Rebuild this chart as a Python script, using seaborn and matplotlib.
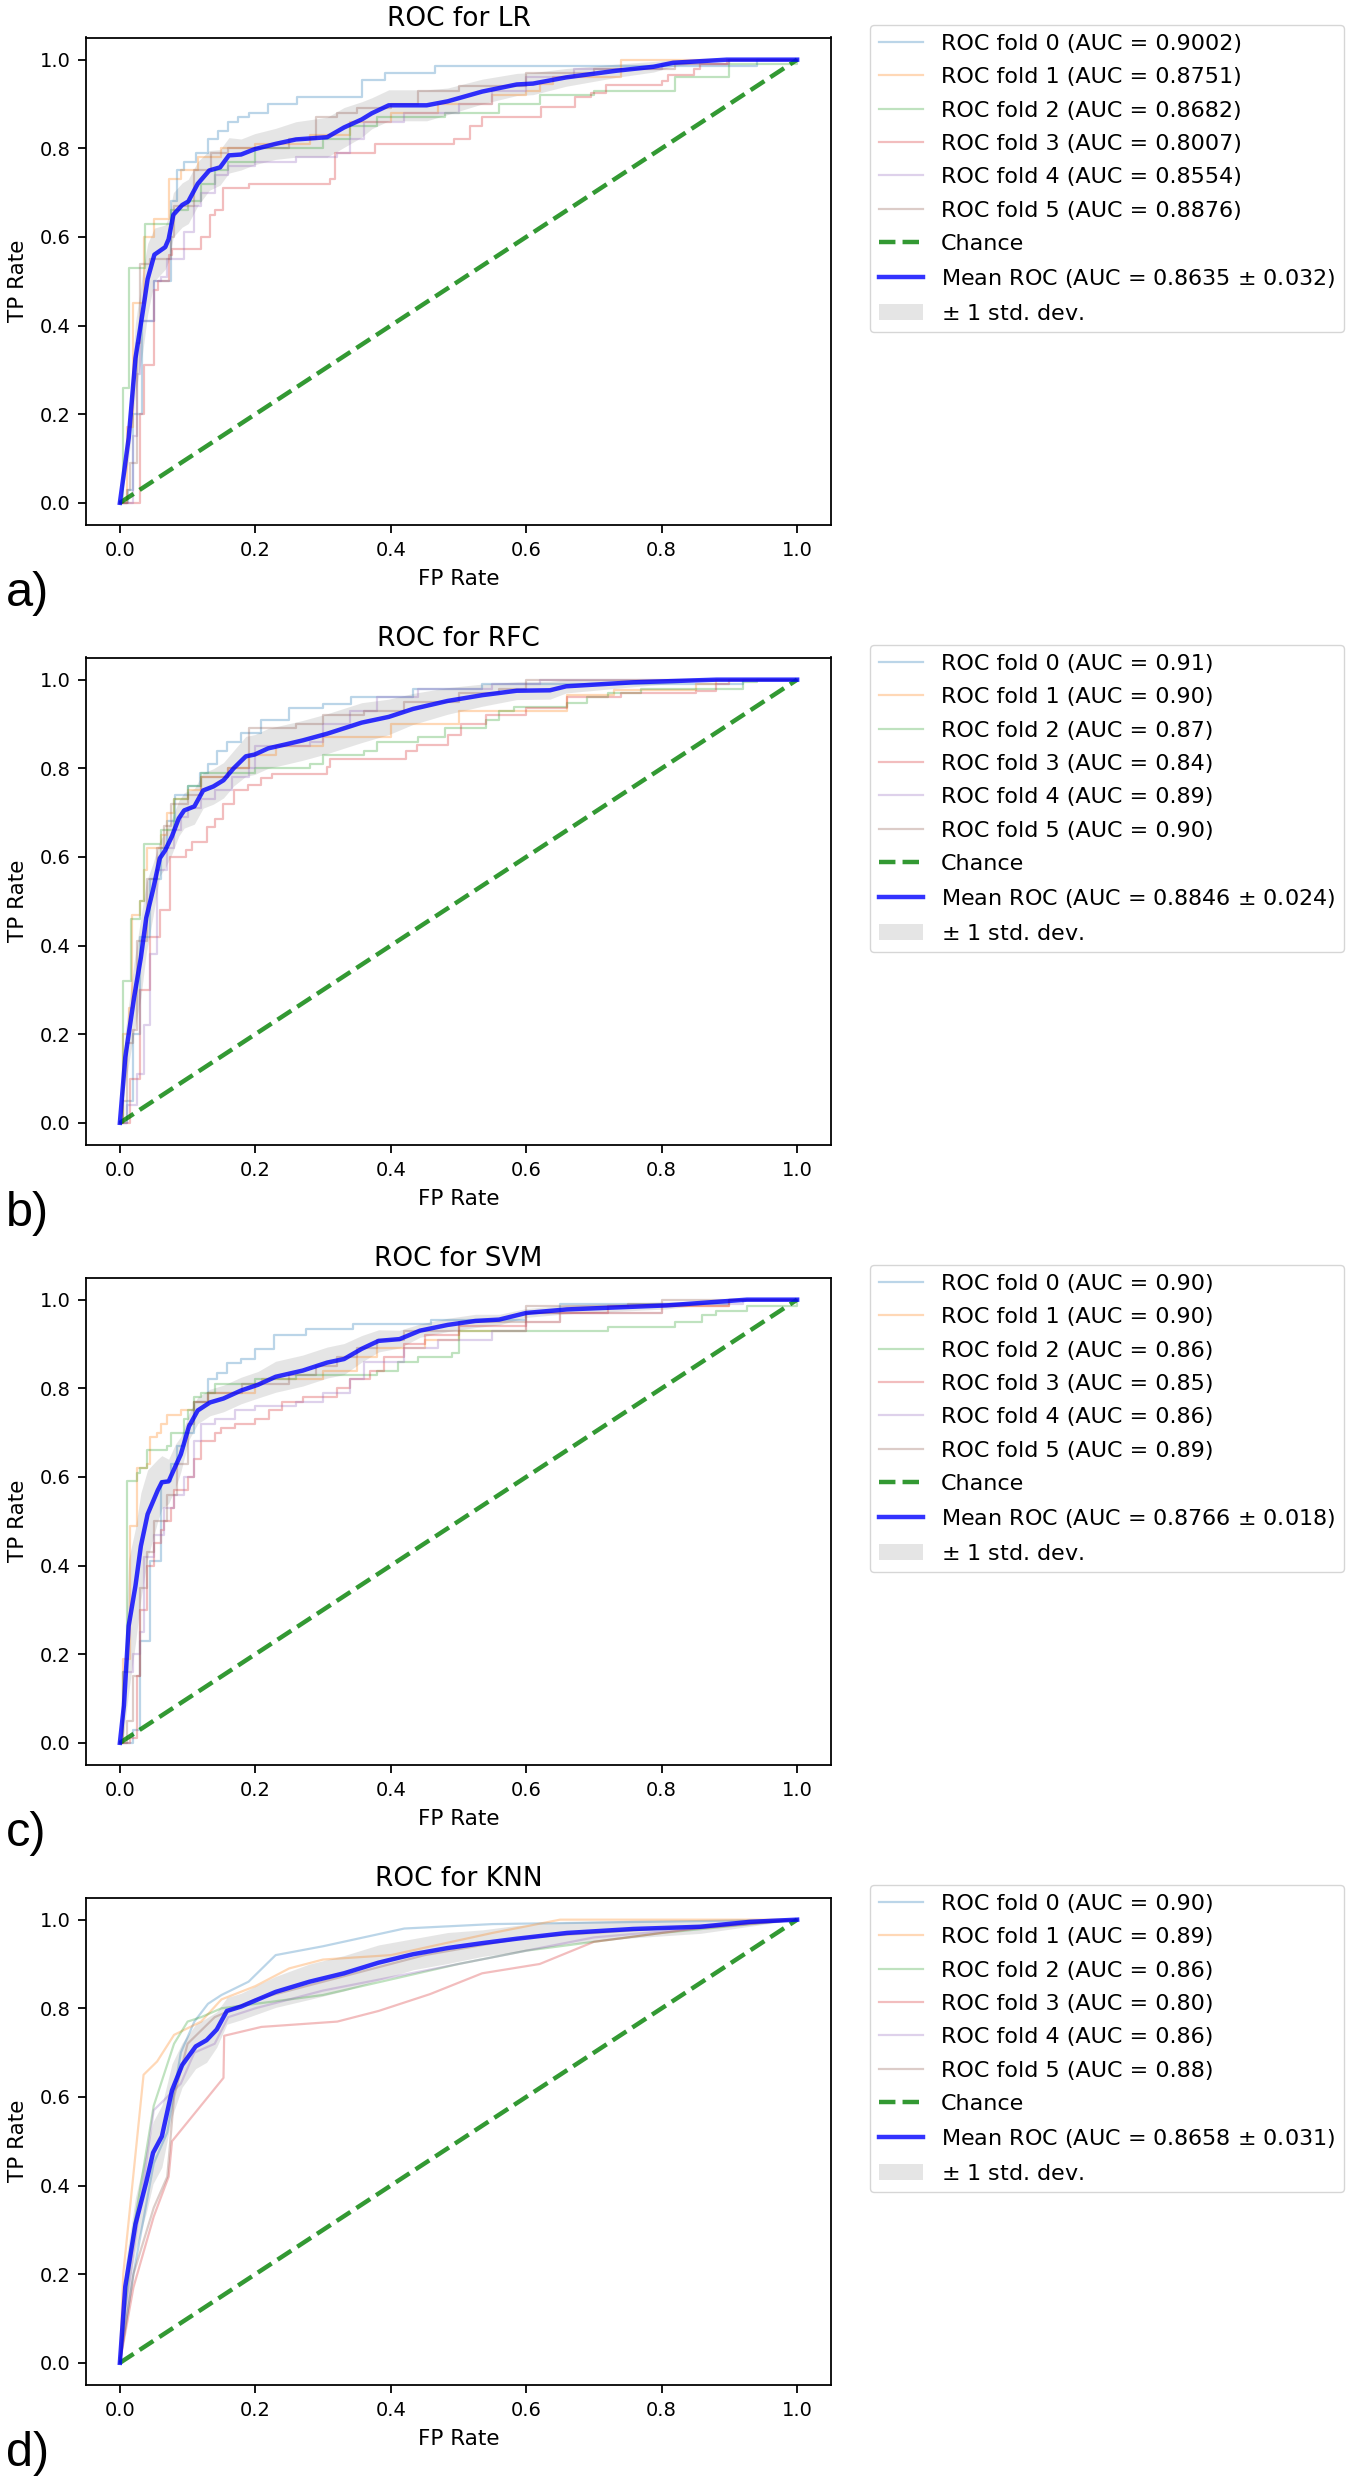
import numpy as np
import matplotlib
matplotlib.use("Agg")
import matplotlib.pyplot as plt
import seaborn as sns

models = ["LR", "RFC", "SVM", "KNN"]
tags = ["a)", "b)", "c)", "d)"]

# AUC texts shown in the legends
lr_auc = ["0.9002", "0.8751", "0.8682", "0.8007", "0.8554", "0.8876"]
rfc_auc = ["0.91", "0.90", "0.87", "0.84", "0.89", "0.90"]
svm_auc = ["0.90", "0.90", "0.86", "0.85", "0.86", "0.89"]
knn_auc = ["0.90", "0.89", "0.86", "0.80", "0.86", "0.88"]
mean_auc = ["0.8635", "0.8846", "0.8766", "0.8658"]
std_auc = ["0.032", "0.024", "0.018", "0.031"]

chance_x = [0, 1]
chance_y = [0, 1]

# ---- LR folds (step curves) ----
lr_fpr = [
    [0, .012, .02, .033, .05, .075, .085, .095, .113, .13, .145, .16, .175, .19, .218, .262, .357, .392, .466, .94, 1],
    [0, .01, .02, .035, .05, .072, .09, .115, .15, .2, .28, .34, .4, .47, .55, .6, .62, .64, .74, 1],
    [0, .005, .013, .037, .075, .1, .12, .14, .16, .2, .3, .34, .38, .48, .56, .62, .7, .82, .9, 1],
    [0, .03, .036, .05, .056, .073, .077, .12, .133, .14, .153, .19, .31, .318, .376, .494, .517, .535, .622, .672, .696, .718, .8, .81, .847, .857, .896, 1],
    [0, .02, .025, .03, .05, .06, .07, .095, .11, .12, .14, .16, .2, .26, .32, .34, .36, .42, .5, .55, .6, .67, .8, .9, 1],
    [0, .01, .015, .025, .03, .045, .075, .08, .11, .135, .16, .25, .29, .32, .35, .4, .44, .5, .6, .7, .82, .9, 1],
]
lr_tpr = [
    [0, .03, .2, .41, .5, .68, .75, .77, .79, .82, .84, .86, .87, .88, .9, .915, .955, .97, .985, 1, 1],
    [0, .17, .45, .6, .64, .73, .75, .78, .8, .81, .83, .86, .88, .9, .92, .93, .945, .96, 1, 1],
    [0, .26, .53, .63, .66, .68, .72, .75, .77, .8, .82, .85, .87, .88, .9, .92, .93, .96, .99, 1],
    [0, .2, .31, .48, .5, .56, .573, .6, .65, .66, .71, .72, .73, .79, .81, .82, .85, .87, .893, .915, .924, .942, .951, .966, .978, .99, 1, 1],
    [0, .15, .29, .41, .5, .51, .55, .61, .67, .7, .74, .76, .77, .78, .79, .82, .86, .88, .9, .93, .96, .98, .99, 1, 1],
    [0, .03, .09, .36, .54, .55, .6, .67, .75, .79, .8, .82, .87, .88, .89, .9, .93, .94, .97, .98, .99, 1, 1],
]
lr_mean_fpr = [0, .013, .023, .034, .041, .051, .067, .072, .079, .092, .101, .115, .132, .148, .161, .179, .199, .23, .26, .306,
               .331, .357, .372, .397, .453, .484, .535, .586, .61, .659, .733, .788, .817, .896, 1]
lr_mean_tpr = [0, .146, .326, .433, .505, .56, .577, .595, .65, .672, .68, .72, .75, .757, .784, .786, .798, .81, .82, .825,
               .847, .865, .879, .897, .897, .906, .928, .944, .946, .96, .975, .984, .993, 1, 1]
lr_std = [0, .05, .08, .09, .08, .06, .05, .05, .05, .05, .05, .05, .045, .04, .04, .035, .035, .035, .04, .045,
          .045, .04, .035, .035, .035, .03, .028, .025, .025, .02, .015, .012, .008, 0, 0]

# ---- RFC folds ----
rfc_fpr = [
    [0, .01, .02, .03, .045, .06, .07, .082, .1, .118, .13, .143, .158, .179, .209, .25, .3, .341, .433, .535, .92, 1],
    [0, .005, .013, .018, .03, .035, .04, .06, .07, .08, .1, .12, .16, .19, .23, .3, .4, .5, .66, .73, .85, .88, 1],
    [0, .005, .017, .03, .035, .06, .08, .1, .12, .2, .28, .3, .36, .38, .44, .48, .54, .56, .582, .66, .69, .72, .77, .92, .94, 1],
    [0, .015, .03, .045, .059, .074, .097, .107, .128, .14, .153, .168, .189, .209, .224, .306, .311, .423, .438, .484, .504, .54, .6, .66, .74, .85, .88, .9, 1],
    [0, .01, .025, .035, .045, .055, .07, .08, .09, .1, .12, .14, .165, .19, .2, .28, .3, .34, .38, .44, .55, .62, 1],
    [0, .005, .01, .02, .025, .04, .055, .065, .075, .1, .12, .16, .19, .26, .3, .36, .42, .5, .56, .6, 1],
]
rfc_tpr = [
    [0, .05, .2, .42, .55, .62, .68, .74, .76, .79, .81, .84, .86, .88, .91, .935, .945, .96, .98, .99, 1, 1],
    [0, .2, .26, .47, .5, .57, .62, .65, .7, .73, .75, .78, .8, .83, .85, .87, .9, .93, .966, .977, .99, 1, 1],
    [0, .32, .46, .5, .63, .66, .73, .76, .79, .8, .81, .83, .84, .86, .87, .89, .91, .929, .938, .947, .96, .97, .98, .995, 1, 1],
    [0, .1, .3, .42, .48, .6, .615, .633, .667, .685, .72, .75, .763, .777, .786, .804, .82, .84, .852, .875, .9, .92, .935, .96, .97, .975, .99, 1, 1],
    [0, .04, .11, .22, .38, .57, .62, .66, .69, .71, .73, .75, .78, .8, .85, .86, .9, .93, .96, .98, .99, 1, 1],
    [0, .05, .18, .21, .41, .55, .62, .67, .72, .74, .78, .8, .89, .9, .92, .93, .95, .97, .98, 1, 1],
]
rfc_mean_fpr = [0, .008, .021, .031, .039, .049, .059, .067, .077, .087, .095, .11, .123, .138, .153, .168, .186, .199, .219, .245,
                .27, .306, .357, .397, .433, .484, .535, .586, .635, .659, .758, .881, 1]
rfc_mean_tpr = [0, .148, .283, .373, .463, .526, .597, .615, .647, .687, .705, .714, .75, .759, .773, .8, .827, .831, .845, .854,
                .863, .878, .903, .916, .934, .952, .965, .975, .976, .985, .994, 1, 1]
rfc_std = [0, .06, .08, .09, .08, .06, .04, .04, .04, .04, .04, .04, .04, .04, .04, .04, .045, .045, .045, .045,
           .045, .045, .045, .04, .035, .03, .025, .02, .02, .015, .01, 0, 0]

# ---- SVM folds ----
svm_fpr = [
    [0, .02, .03, .045, .06, .075, .085, .095, .11, .13, .143, .158, .179, .2, .227, .275, .344, .46, .6, .65, .9, 1],
    [0, .005, .015, .025, .04, .045, .055, .06, .07, .09, .11, .13, .2, .21, .3, .35, .38, .45, .5, .6, .65, .8, .9, 1],
    [0, .005, .01, .025, .03, .04, .07, .075, .095, .1, .11, .12, .14, .2, .26, .38, .41, .44, .49, .5, .72, .82, .86, .88, .926, 1],
    [0, .015, .025, .03, .04, .05, .06, .065, .075, .08, .1, .11, .12, .14, .15, .17, .2, .22, .24, .27, .32, .34, .37, .39, .42, .45, .5, .6, .72, .9, 1],
    [0, .005, .02, .03, .035, .05, .065, .08, .095, .11, .12, .14, .17, .2, .26, .3, .34, .36, .42, .47, .55, .6, .65, .8, .92, 1],
    [0, .01, .02, .03, .04, .05, .07, .085, .1, .11, .13, .18, .25, .29, .32, .35, .38, .42, .5, .6, .75, .8, 1],
]
svm_tpr = [
    [0, .03, .23, .41, .59, .63, .67, .7, .77, .82, .835, .857, .866, .888, .92, .934, .945, .955, .97, .99, 1, 1],
    [0, .19, .49, .62, .63, .69, .7, .72, .74, .75, .77, .79, .81, .82, .84, .87, .89, .91, .93, .95, .97, .985, 1, 1],
    [0, .16, .59, .61, .62, .66, .67, .7, .73, .75, .78, .79, .81, .82, .83, .84, .86, .87, .88, .93, .938, .95, .965, .975, .985, 1],
    [0, .01, .15, .3, .4, .45, .48, .5, .53, .57, .6, .64, .68, .7, .71, .72, .73, .75, .77, .78, .8, .82, .84, .87, .9, .92, .94, .97, .985, 1, 1],
    [0, .16, .2, .25, .42, .47, .53, .56, .6, .68, .72, .73, .75, .76, .77, .79, .82, .86, .89, .91, .93, .95, .97, .99, 1, 1],
    [0, .05, .15, .35, .43, .5, .56, .63, .72, .77, .79, .81, .83, .85, .87, .89, .91, .93, .95, .985, .99, 1, 1],
]
svm_mean_fpr = [0, .006, .013, .023, .031, .041, .056, .062, .072, .082, .09, .102, .115, .133, .153, .179, .204, .23, .27, .306,
                .331, .357, .382, .413, .443, .484, .525, .56, .6, .66, .807, .926, 1]
svm_mean_tpr = [0, .084, .264, .354, .444, .516, .57, .588, .59, .624, .651, .714, .75, .768, .777, .795, .808, .826, .84, .858,
                .866, .889, .907, .911, .93, .943, .952, .955, .97, .978, .987, 1, 1]
svm_std = [0, .06, .15, .13, .12, .1, .07, .06, .05, .05, .04, .03, .03, .03, .03, .03, .03, .035, .035, .035,
           .035, .03, .025, .02, .015, .015, .015, .012, .01, .01, .008, 0, 0]

# ---- KNN folds (piecewise linear) ----
knn_fpr = [
    [0, .02, .05, .07, .09, .11, .13, .15, .19, .23, .3, .42, .55, 1],
    [0, .005, .035, .055, .08, .12, .15, .2, .25, .3, .4, .55, .65, 1],
    [0, .02, .05, .08, .1, .12, .15, .2, .3, .5, .6, .8, 1],
    [0, .02, .05, .072, .077, .153, .154, .209, .321, .382, .458, .535, .62, .7, .85, 1],
    [0, .02, .05, .07, .09, .11, .14, .16, .2, .3, .5, .7, 1],
    [0, .02, .05, .07, .08, .1, .14, .2, .3, .45, .6, .8, 1],
]
knn_tpr = [
    [0, .2, .45, .52, .7, .77, .81, .83, .86, .92, .94, .98, .99, 1],
    [0, .2, .65, .68, .74, .77, .82, .85, .89, .91, .92, .97, 1, 1],
    [0, .3, .58, .72, .77, .78, .8, .81, .83, .9, .93, .97, 1],
    [0, .17, .33, .42, .5, .643, .738, .758, .77, .794, .832, .879, .9, .95, .98, 1],
    [0, .25, .57, .6, .63, .7, .72, .78, .8, .84, .9, .96, 1],
    [0, .2, .35, .42, .6, .72, .78, .82, .86, .92, .96, .98, 1],
]
knn_mean_fpr = [0, .008, .023, .039, .049, .062, .077, .092, .112, .128, .143, .158, .179, .23, .28, .331, .382, .433, .484, .535,
                .586, .66, .758, .857, .93, 1]
knn_mean_tpr = [0, .172, .313, .408, .474, .511, .615, .672, .714, .728, .752, .794, .804, .837, .86, .879, .903, .922, .936, .947,
                .957, .97, .979, .984, .995, 1]
knn_std = [0, .05, .06, .07, .07, .07, .06, .05, .05, .05, .04, .03, .03, .035, .04, .04, .04, .035, .035, .03,
           .03, .025, .02, .015, .01, 0]

fold_fpr = [lr_fpr, rfc_fpr, svm_fpr, knn_fpr]
fold_tpr = [lr_tpr, rfc_tpr, svm_tpr, knn_tpr]
fold_auc = [lr_auc, rfc_auc, svm_auc, knn_auc]
mean_fpr = [lr_mean_fpr, rfc_mean_fpr, svm_mean_fpr, knn_mean_fpr]
mean_tpr = [lr_mean_tpr, rfc_mean_tpr, svm_mean_tpr, knn_mean_tpr]
std_tpr = [lr_std, rfc_std, svm_std, knn_std]
steps = [True, True, True, False]

plt.rcParams['font.family'] = ['DejaVu Sans']
plt.rcParams['axes.linewidth'] = 1.28
plt.rcParams['xtick.major.size'] = 5.6
plt.rcParams['ytick.major.size'] = 5.6
plt.rcParams['xtick.major.width'] = 1.28
plt.rcParams['ytick.major.width'] = 1.28
plt.rcParams['xtick.major.pad'] = 5.6
plt.rcParams['ytick.major.pad'] = 5.6

W, H = 1350, 2480
fig = plt.figure(figsize=(W / 100, H / 100), dpi=100)
colors = sns.color_palette("tab10", 6)

for k in range(4):
    off = 620 * k
    ax = fig.add_axes([86 / W, 1 - (525 + off) / H, 745 / W, 487.5 / H])
    ds = 'steps-post' if steps[k] else 'default'
    for i in range(6):
        sns.lineplot(x=fold_fpr[k][i], y=fold_tpr[k][i], ax=ax, estimator=None, sort=False,
                     color=colors[i], lw=1.6, alpha=0.3, drawstyle=ds,
                     label='ROC fold %d (AUC = %s)' % (i, fold_auc[k][i]))
    sns.lineplot(x=chance_x, y=chance_y, ax=ax, estimator=None, sort=False,
                 color='g', lw=3.2, alpha=0.8, linestyle='--', label='Chance')
    mf = np.array(mean_fpr[k])
    mt = np.array(mean_tpr[k])
    sd = np.array(std_tpr[k])
    sns.lineplot(x=mf, y=mt, ax=ax, estimator=None, sort=False, color='b', lw=3.2, alpha=0.8,
                 label=r'Mean ROC (AUC = %s $\pm$ %s)' % (mean_auc[k], std_auc[k]))
    upper = np.minimum(mt + sd, 1)
    lower = np.maximum(mt - sd, 0)
    ax.fill_between(mf, lower, upper, color='grey', alpha=0.2, lw=0, label=r'$\pm$ 1 std. dev.')

    ax.set_xlim(-0.05, 1.05)
    ax.set_ylim(-0.05, 1.05)
    ax.set_xticks([0, 0.2, 0.4, 0.6, 0.8, 1.0])
    ax.set_yticks([0, 0.2, 0.4, 0.6, 0.8, 1.0])
    ax.tick_params(labelsize=14)
    ax.set_xlabel('FP Rate', fontsize=15.5, labelpad=7)
    ax.set_ylabel('TP Rate', fontsize=15.5, labelpad=8)
    ax.set_title('ROC for ' + models[k], fontsize=19, pad=8.6)
    ax.legend(loc='upper left', bbox_to_anchor=(870 / W, 1 - (25 + off) / H),
              bbox_transform=fig.transFigure, borderaxespad=0, fontsize=16, labelspacing=0.6)

    fig.text(6 / W, 1 - (594 + off) / H, tags[k], fontsize=35, family=['Liberation Sans'],
             ha='left', va='center')

fig.savefig('out.png', dpi=100)
